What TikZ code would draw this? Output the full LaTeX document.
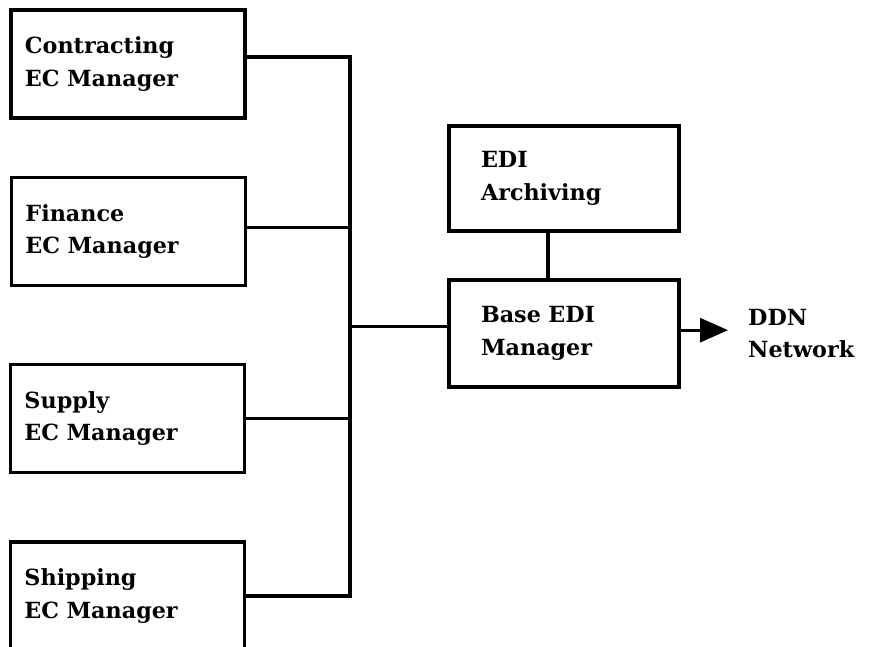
\documentclass[tikz,border=0pt]{standalone}
\usepackage{fontspec}
\setmainfont{DejaVu Serif}
\usetikzlibrary{arrows.meta}
\begin{document}
\begin{tikzpicture}[x=0.03cm,y=-0.03cm,
	ecbox/.style={draw,line width=2.6pt,align=left,minimum height=3.24cm,inner xsep=0.42cm,text width=6.18cm,font=\fontsize{19}{28}\selectfont\bfseries},
	edibox/.style={ecbox,inner xsep=0.96cm,text width=4.98cm},
	link/.style={line width=2.6pt}]
			\useasboundingbox (0,0) rectangle (871,646);
			\node[ecbox] (contract) at (128,64) {Contracting\\EC Manager};
			\node[ecbox] (finance) at (128.5,231.5) {Finance\\EC Manager};
			\node[ecbox] (supply) at (127.5,418.5) {Supply\\EC Manager};
			\node[ecbox] (ship) at (127.5,596) {Shipping\\EC Manager};
			\node[edibox,minimum height=3.15cm] (archive) at (564,178.5) {EDI\\Archiving};
			\node[edibox,minimum height=3.21cm] (base) at (564,333.5) {Base EDI\\Manager};
			\node[anchor=west,align=left,inner sep=0,font=\fontsize{19}{28}\selectfont\bfseries] (ddn) at (748,333.5) {DDN\\Network};
			\coordinate (bus) at (350,0);
			\draw[link] ([yshift=0.21cm]contract.east) -- ([yshift=0.21cm]contract.east -| bus) -- (ship.east -| bus) -- (ship.east);
			\draw[link] ([yshift=0.13cm]finance.east) -- ([yshift=0.13cm]finance.east -| bus);
			\draw[link] (supply.east) -- (supply.east -| bus);
			\draw[link] ([yshift=0.2cm]base.west -| bus) -- ([yshift=0.2cm]base.west);
			\draw[link] ([xshift=-0.48cm]archive.south) -- ([xshift=-0.48cm]base.north);
			\draw[link,-{Triangle[length=0.84cm,width=0.72cm]}] ([yshift=0.1cm]base.east) -- ([xshift=-0.6cm,yshift=0.1cm]ddn.west);
		\end{tikzpicture}
\end{document}
